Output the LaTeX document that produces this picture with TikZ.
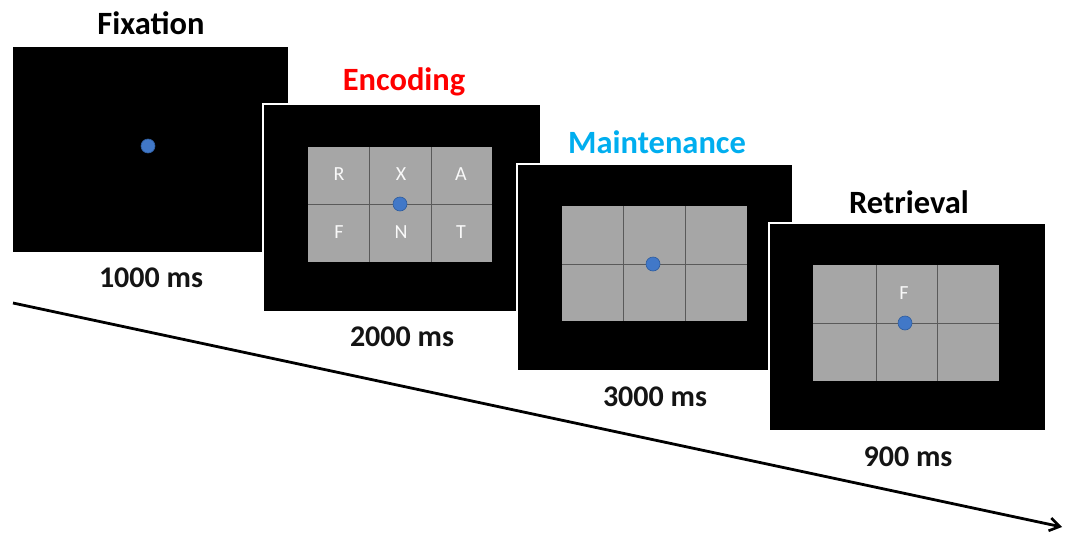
\documentclass[tikz,border=0pt]{standalone}
\usepackage{fontspec}
\setmainfont{Carlito}
\usetikzlibrary{arrows.meta}
\definecolor{gridgray}{HTML}{A6A6A6}
\definecolor{gridline}{HTML}{5A5A5A}
\definecolor{dotblue}{HTML}{4178C8}
\definecolor{dotedge}{HTML}{2E5C9E}
\definecolor{encred}{HTML}{FF0000}
\definecolor{maintblue}{HTML}{00AEEF}
\tikzset{
  screen/.style={draw=white, line width=2pt, fill=black, inner sep=0pt},
  gridln/.style={draw=gridline, line width=0.8pt},
  fixdot/.style={circle, fill=dotblue, draw=dotedge, line width=0.6pt, minimum size=14pt, inner sep=0pt},
  title/.style={font=\fontsize{32.5}{38}\selectfont\bfseries, inner sep=0pt},
  dur/.style={font=\fontsize{30}{34}\selectfont\bfseries, text=black!92, inner sep=0pt},
  letter/.style={font=\fontsize{20}{22}\selectfont, text=white!95!gray, inner sep=0pt},
  timearrow/.style={line width=2.8pt, -{Straight Barb[length=10pt, width=13pt, line width=2.6pt]}}
}
\begin{document}
\begin{tikzpicture}[x=1pt, y=-1pt]
\useasboundingbox[fill=white] (0,0) rectangle (1068,533);

% time arrow
\coordinate (tstart) at (13,303);
\coordinate (tend) at (1062,527);
\draw[timearrow] (tstart) -- (tend);

% ---------- Fixation ----------
\node[screen, minimum width=277pt, minimum height=207pt] (fix) at (150.5,149.5) {};
\node[fixdot] (fixd) at (148,146) {};
\node[title] (fixt) at (151,23) {Fixation};
\node[dur] (fixm) at (151,278) {1000 ms};

% ---------- Encoding ----------
\node[screen, minimum width=278pt, minimum height=208pt] (enc) at (402,208) {};
\fill[gridgray] (308,147) rectangle (492,262);
\draw[gridln] (308,204) -- (492,204);
\draw[gridln] (369,147) -- (369,262);
\draw[gridln] (431,147) -- (431,262);
\node[letter] (eR) at (339,174) {R};
\node[letter] (eX) at (401,174) {X};
\node[letter] (eA) at (461,174) {A};
\node[letter] (eF) at (339,232) {F};
\node[letter] (eN) at (401,232) {N};
\node[letter] (eT) at (461,232) {T};
\node[fixdot] (encd) at (400,204) {};
\node[title, text=encred] (enct) at (404,82) {Encoding};
\node[dur] (encm) at (402,337) {2000 ms};

% ---------- Maintenance ----------
\node[screen, minimum width=276pt, minimum height=207pt] (mai) at (655,267.5) {};
\fill[gridgray] (562,206) rectangle (747,321);
\draw[gridln] (562,264) -- (747,264);
\draw[gridln] (623,206) -- (623,321);
\draw[gridln] (685,206) -- (685,321);
\node[fixdot] (maid) at (653,264) {};
\node[title, text=maintblue] (mait) at (657,142) {Maintenance};
\node[dur] (maim) at (655,397) {3000 ms};

% ---------- Retrieval ----------
\node[screen, minimum width=277pt, minimum height=208pt] (ret) at (907.5,327) {};
\fill[gridgray] (813,265) rectangle (999,381);
\draw[gridln] (813,323) -- (999,323);
\draw[gridln] (876,265) -- (876,381);
\draw[gridln] (937,265) -- (937,381);
\node[letter] (rF) at (904,293) {F};
\node[fixdot] (retd) at (905,323) {};
\node[title] (rett) at (909,202) {Retrieval};
\node[dur] (retm) at (908,457) {900 ms};
\end{tikzpicture}
\end{document}
